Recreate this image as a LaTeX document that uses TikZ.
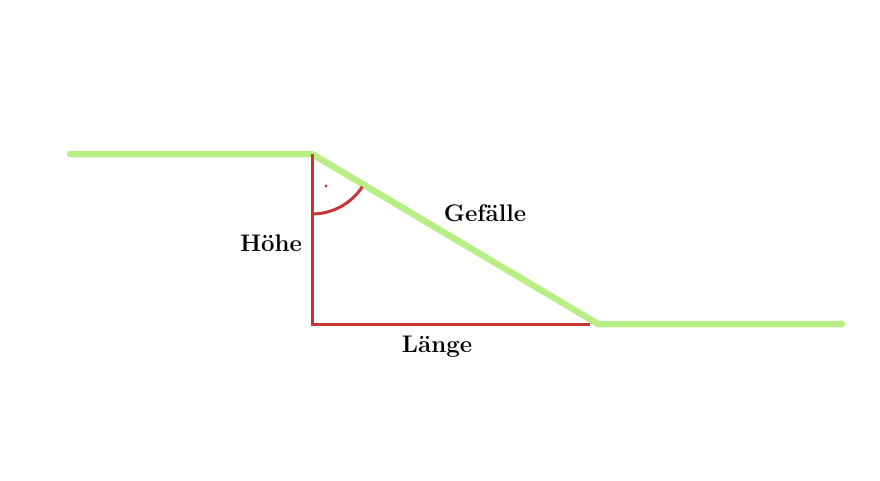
\documentclass[tikz,border=0pt]{standalone}
\usepackage{xcolor}
\usepackage{tikz}
\usetikzlibrary{calc}
\definecolor{slopegreen}{RGB}{184, 238, 134}
\definecolor{sidered}{RGB}{200, 52, 52}

\begin{document}
\begin{tikzpicture}[x=1pt, y=-1pt,
  ground/.style={line width=6.5pt, slopegreen, line cap=round, line join=round},
  side/.style={line width=3pt, sidered},
  lbl/.style={font=\fontsize{24}{28}\selectfont\bfseries, inner sep=0pt}]
\useasboundingbox (0,0) rectangle (880,480);
% Terrain
\coordinate (top) at (312,154);
\coordinate (bot) at (598,324);
\coordinate (corner) at (312,324);
\draw[ground] (70,154) -- (top) -- (bot) -- (842,324);
% Triangle sides
\draw[side] (top) -- (corner) -- ($(bot)+(-8,0)$);
% Right angle mark
\draw[side] ($(top)+(0,60)$) arc[start angle=90, end angle=33, radius=60];
\fill[sidered] (326,186) circle (1.6pt);
% Labels
\node[lbl] (hoehe) at (271,243) {Höhe};
\node[lbl] (gefaelle) at (485,213) {Gefälle};
\node[lbl] (laenge) at (437,347) {Länge};
\end{tikzpicture}
\end{document}
